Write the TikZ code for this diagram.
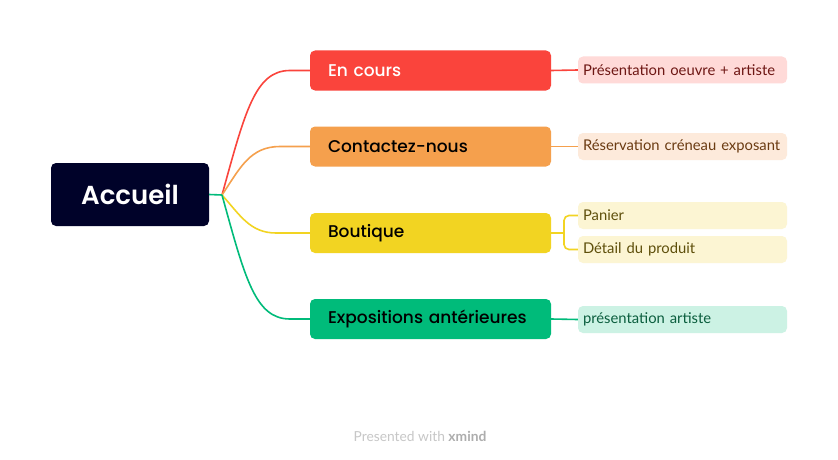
\documentclass[tikz,border=0pt]{standalone}
\usepackage{fontspec}
\setmainfont{Lato}
\newfontfamily\topicfont{Poppins}[UprightFont={* Medium},BoldFont={* SemiBold}]
\usetikzlibrary{calc}

\definecolor{rootbg}{HTML}{000229}
\definecolor{enred}{HTML}{FA443C}
\definecolor{contorange}{HTML}{F5A04D}
\definecolor{boutyellow}{HTML}{F2D422}
\definecolor{expogreen}{HTML}{00BB7A}
\definecolor{enredlt}{HTML}{FFDAD8}
\definecolor{contorangelt}{HTML}{FDEADB}
\definecolor{boutyellowlt}{HTML}{FCF5D3}
\definecolor{expogreenlt}{HTML}{CCF2E4}
\definecolor{enreddk}{HTML}{6E1714}
\definecolor{contorangedk}{HTML}{6B3B12}
\definecolor{boutyellowdk}{HTML}{5E4F0B}
\definecolor{expogreendk}{HTML}{0B5E3E}

\tikzset{
  rootbox/.style={fill=rootbg,text=white,rounded corners=5pt,minimum width=158pt,
    minimum height=63pt,inner sep=0pt,font=\topicfont\bfseries\fontsize{26}{30}\selectfont},
  topicbox/.style={fill=#1,rounded corners=5pt,minimum width=241pt,minimum height=40pt,
    inner xsep=18pt,inner ysep=0pt,text width=205pt,align=left,
    font=\topicfont\fontsize{17}{20}\selectfont},
  subbox/.style={fill=#1,rounded corners=5pt,minimum width=209pt,minimum height=27pt,
    inner xsep=5pt,inner ysep=0pt,text width=199pt,align=left,
    font=\fontsize{14.8}{17}\selectfont},
  branch/.style={draw=#1,line width=1.6pt},
}

\begin{document}
\begin{tikzpicture}[x=1pt,y=-1pt]
  \useasboundingbox[fill=white] (0,0) rectangle (838,460);

  % main nodes
  \node[rootbox] (accueil) at (130,194.5) {Accueil};
  \coordinate (hub) at (222,195);

  \node[topicbox=enred,text=white] (encours) at (430.5,70.5) {En cours};
  \node[topicbox=contorange] (contact) at (430.5,146.5) {Contactez-nous};
  \node[topicbox=boutyellow] (boutique) at (430.5,233) {Boutique};
  \node[topicbox=expogreen] (expos) at (430.5,319) {Expositions ant\'erieures};

  % sub topics
  \node[subbox=enredlt,text=enreddk] (oeuvre) at (682.5,70) {Pr\'esentation oeuvre + artiste};
  \node[subbox=contorangelt,text=contorangedk] (reserv) at (682.5,146.5) {R\'eservation cr\'eneau exposant};
  \node[subbox=boutyellowlt,text=boutyellowdk] (panier) at (682.5,215.5) {Panier};
  \node[subbox=boutyellowlt,text=boutyellowdk] (detail) at (682.5,249.5) {D\'etail du produit};
  \node[subbox=expogreenlt,text=expogreendk] (artiste) at (682.5,319.5) {pr\'esentation artiste};

  % branches from the root
  \draw[branch=enred] (hub) .. controls (245,112) and (255,70.5) .. (290,70.5) -- (encours.west);
  \draw[branch=contorange] (hub) .. controls (240,168) and (250,146.5) .. (280,146.5) -- (contact.west);
  \draw[branch=boutyellow] (hub) .. controls (240,215) and (250,233) .. (276,233) -- (boutique.west);
  \draw[branch=expogreen] (hub) .. controls (245,278) and (255,319) .. (290,319) -- (expos.west);
  \draw[branch=expogreen] (accueil.east) -- (hub);

  % branches to sub topics
  \draw[branch=enred] (encours.east) -- (oeuvre.west);
  \draw[branch=contorange] (contact.east) -- (reserv.west);
  \coordinate (fork) at (564,233);
  \draw[branch=boutyellow] (boutique.east) -- (fork);
  \draw[branch=boutyellow,rounded corners=5pt] (panier.west) -| (fork) |- (detail.west);
  \draw[branch=expogreen] (expos.east) -- (artiste.west);

  \node[font=\fontsize{13.8}{16}\selectfont,text=black!22] (footer) at (420,436)
    {Presented with \textbf{\color{black!32}xmind}};
\end{tikzpicture}
\end{document}
